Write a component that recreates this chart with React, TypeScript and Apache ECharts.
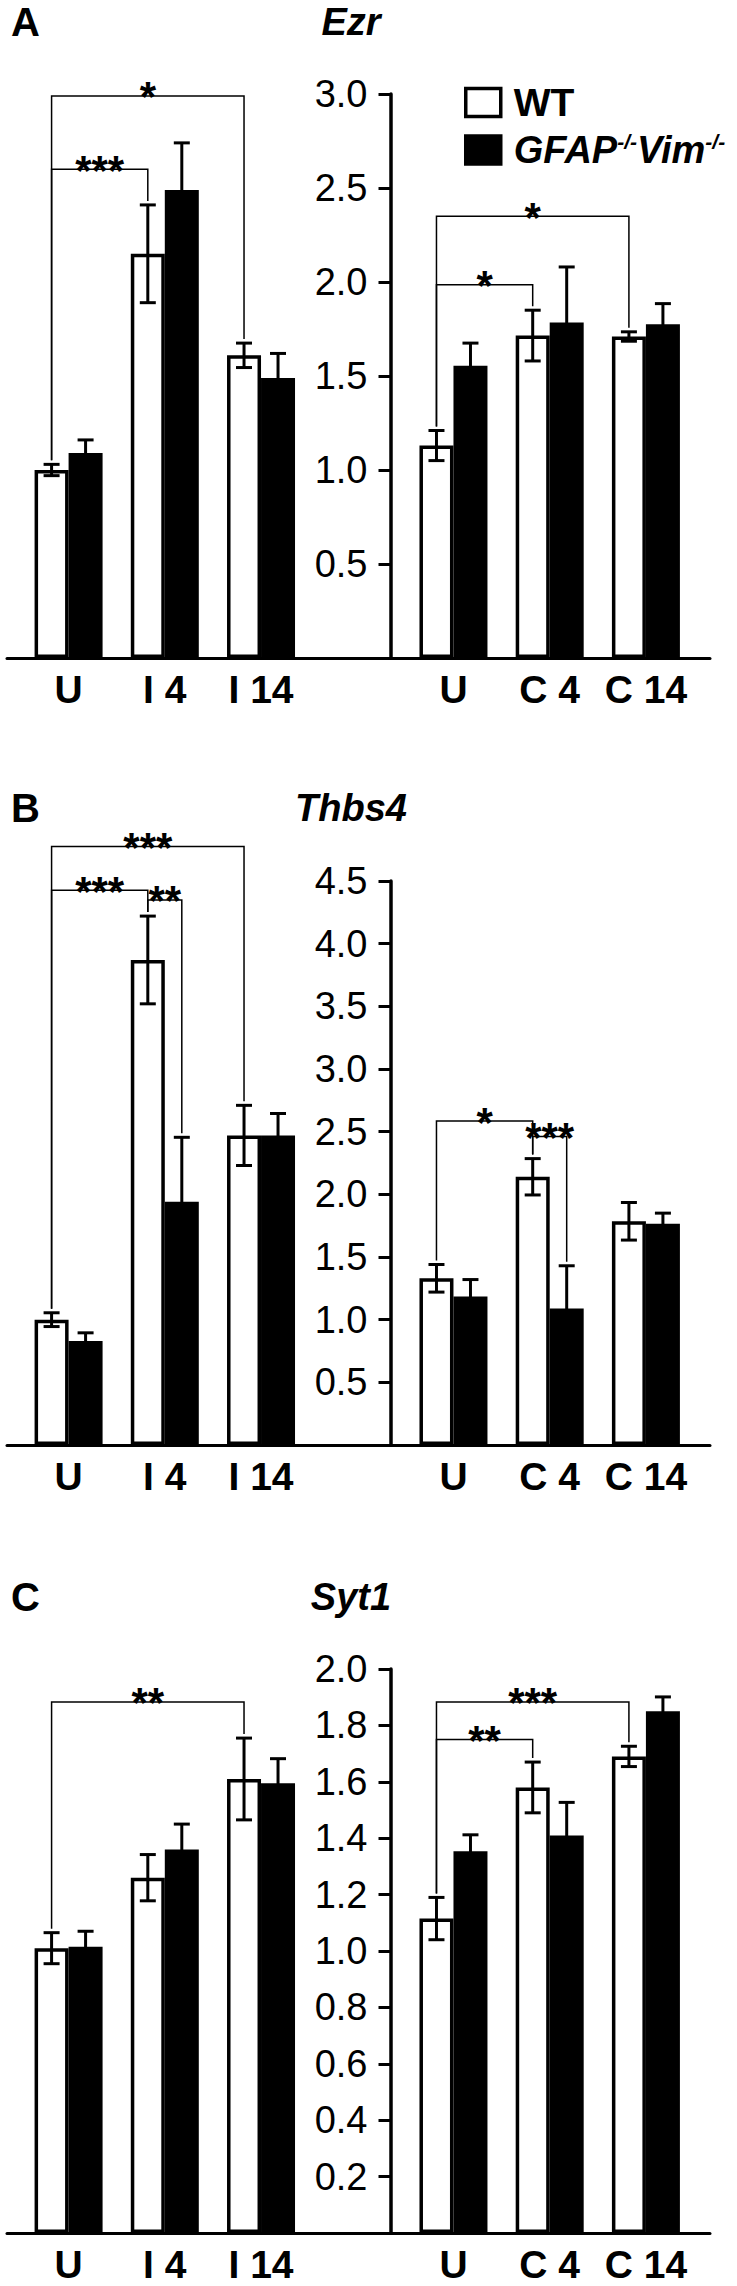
import React, { useEffect, useRef } from 'react';
import * as echarts from 'echarts';

const FONT = '"Liberation Sans", Arial, Helvetica, sans-serif';

// category slots on the shared x scale (slot 3 is the gap holding the y axis)
const X_POS = [0, 1, 2, 4, 5, 6];
const CATEGORIES = ['U', 'I 4', 'I 14', 'U', 'C 4', 'C 14'];
const NAME_WT = 'WT';
const NAME_KO = 'GFAP-/-Vim-/-';

const PANEL_LETTERS = ['A', 'B', 'C'];
const GENES = ['Ezr', 'Thbs4', 'Syt1'];
const Y_MAX = [3.0, 4.5, 2.0];
const Y_STEP = [0.5, 0.5, 0.2];

// Ezr
const EZR_WT = [1.0, 2.15, 1.61, 1.13, 1.715, 1.71];
const EZR_WT_ERR = [0.03, 0.26, 0.065, 0.08, 0.135, 0.025];
const EZR_KO = [1.09, 2.49, 1.49, 1.555, 1.785, 1.775];
const EZR_KO_ERR = [0.07, 0.25, 0.13, 0.12, 0.295, 0.11];
// [fromIndex, fromSide(0=WT,1=KO), toIndex, toSide, height, stars]
const EZR_SIG: any[] = [
  [0, 0, 2, 0, 2.99, '*'],
  [0, 0, 1, 0, 2.6, '***'],
  [3, 0, 5, 0, 2.35, '*'],
  [3, 0, 4, 0, 1.985, '*'],
];

// Thbs4
const THBS4_WT = [1.0, 3.87, 2.47, 1.33, 2.14, 1.785];
const THBS4_WT_ERR = [0.055, 0.35, 0.24, 0.11, 0.145, 0.15];
const THBS4_KO = [0.83, 1.94, 2.47, 1.185, 1.09, 1.765];
const THBS4_KO_ERR = [0.065, 0.515, 0.175, 0.135, 0.34, 0.085];
const THBS4_SIG: any[] = [
  [0, 0, 2, 0, 4.775, '***'],
  [0, 0, 1, 0, 4.427, '***'],
  [1, 0, 1, 1, 4.349, '**'],
  [3, 0, 4, 0, 2.585, '*'],
  [4, 0, 4, 1, 2.461, '***'],
];

// Syt1
const SYT1_WT = [1.01, 1.26, 1.61, 1.115, 1.58, 1.69];
const SYT1_WT_ERR = [0.055, 0.082, 0.145, 0.075, 0.09, 0.036];
const SYT1_KO = [1.015, 1.36, 1.595, 1.354, 1.41, 1.85];
const SYT1_KO_ERR = [0.055, 0.09, 0.087, 0.058, 0.117, 0.051];
const SYT1_SIG: any[] = [
  [0, 0, 2, 0, 1.883, '**'],
  [3, 0, 5, 0, 1.883, '***'],
  [3, 0, 4, 0, 1.75, '**'],
];

const PANELS = [
  { wt: EZR_WT, wtErr: EZR_WT_ERR, ko: EZR_KO, koErr: EZR_KO_ERR, sig: EZR_SIG },
  { wt: THBS4_WT, wtErr: THBS4_WT_ERR, ko: THBS4_KO, koErr: THBS4_KO_ERR, sig: THBS4_SIG },
  { wt: SYT1_WT, wtErr: SYT1_WT_ERR, ko: SYT1_KO, koErr: SYT1_KO_ERR, sig: SYT1_SIG },
];

// layout (styles, not data)
const GRID_LEFT = 7;
const GRID_W = 703;
const GRID_TOP = [94, 881, 1669];
const GRID_H = 564;
const TITLE_Y = [22, 808, 1597];
const X_MIN = -0.64;
const X_MAX = 6.666;
const Y_AXIS_OFFSET = -383.5;
const BAR_W = 34;
const CAP = 8;
const LEG_GAP = 4;

function buildOption() {
  const grid: any[] = [];
  const xAxis: any[] = [];
  const yAxis: any[] = [];
  const series: any[] = [];
  const graphic: any[] = [];

  PANELS.forEach((p, i) => {
    grid.push({ left: GRID_LEFT, top: GRID_TOP[i], width: GRID_W, height: GRID_H, containLabel: false });
    xAxis.push({
      type: 'value',
      gridIndex: i,
      min: X_MIN,
      max: X_MAX,
      axisLine: { show: true, onZero: false, lineStyle: { color: '#000', width: 3 } },
      axisTick: { show: false },
      splitLine: { show: false },
      axisLabel: {
        customValues: X_POS,
        margin: 12,
        color: '#000',
        fontFamily: FONT,
        fontSize: 39,
        fontWeight: 'bold',
        formatter: (v: number) => {
          const k = X_POS.indexOf(Math.round(v));
          return k >= 0 && Math.abs(v - X_POS[k]) < 1e-6 ? CATEGORIES[k] : '';
        },
      },
    });
    yAxis.push({
      type: 'value',
      gridIndex: i,
      min: 0,
      max: Y_MAX[i],
      interval: Y_STEP[i],
      position: 'left',
      offset: Y_AXIS_OFFSET,
      axisLine: { show: true, onZero: false, lineStyle: { color: '#000', width: 3.5 } },
      axisTick: { show: true, length: 12, lineStyle: { color: '#000', width: 3 } },
      splitLine: { show: false },
      axisLabel: {
        margin: 23,
        color: '#000',
        fontFamily: FONT,
        fontSize: 38,
        formatter: (v: number) => (Math.abs(v) < 1e-9 ? '' : v.toFixed(1)),
      },
    });

    series.push({
      name: NAME_WT,
      type: 'bar',
      xAxisIndex: i,
      yAxisIndex: i,
      barWidth: BAR_W,
      barGap: '0%',
      itemStyle: { color: '#fff', borderColor: '#000', borderWidth: 3.5 },
      data: X_POS.map((x, k) => [x, p.wt[k]]),
    });
    series.push({
      name: NAME_KO,
      type: 'bar',
      xAxisIndex: i,
      yAxisIndex: i,
      barWidth: BAR_W,
      barGap: '0%',
      itemStyle: { color: '#000' },
      data: X_POS.map((x, k) => [x, p.ko[k]]),
    });

    const errData: number[][] = [];
    X_POS.forEach((x, k) => {
      errData.push([x, p.wt[k], p.wtErr[k], -1]);
      errData.push([x, p.ko[k], p.koErr[k], 1]);
    });
    series.push({
      type: 'custom',
      xAxisIndex: i,
      yAxisIndex: i,
      z: 5,
      silent: true,
      data: errData,
      renderItem: (params: any, api: any) => {
        const x = api.value(0);
        const v = api.value(1);
        const e = api.value(2);
        const side = api.value(3);
        const cx = api.coord([x, v])[0] + (side * BAR_W) / 2;
        const top = api.coord([x, v + e])[1];
        const bot = api.coord([x, v - e])[1];
        const st = { stroke: '#000', lineWidth: 3 };
        return {
          type: 'group',
          children: [
            { type: 'line', shape: { x1: cx, y1: top, x2: cx, y2: bot }, style: st },
            { type: 'line', shape: { x1: cx - CAP, y1: top, x2: cx + CAP, y2: top }, style: st },
            { type: 'line', shape: { x1: cx - CAP, y1: bot, x2: cx + CAP, y2: bot }, style: st },
          ],
        };
      },
    });

    const topOf = (idx: number, side: number) =>
      side === 0 ? p.wt[idx] + p.wtErr[idx] : p.ko[idx] + p.koErr[idx];
    const sigData = p.sig.map((s: any[]) => [
      X_POS[s[0]], s[1], X_POS[s[2]], s[3], s[4], topOf(s[0], s[1]), topOf(s[2], s[3]),
    ]);
    const labels = p.sig.map((s: any[]) => s[5]);
    series.push({
      type: 'custom',
      xAxisIndex: i,
      yAxisIndex: i,
      z: 6,
      silent: true,
      encode: { x: 0, y: 4 },
      data: sigData,
      renderItem: (params: any, api: any) => {
        const x1 = api.value(0);
        const s1 = api.value(1);
        const x2 = api.value(2);
        const s2 = api.value(3);
        const h = api.value(4);
        const b1 = api.value(5);
        const b2 = api.value(6);
        const off = (s: number) => ((s === 0 ? -1 : 1) * BAR_W) / 2;
        const px1 = api.coord([x1, h])[0] + off(s1);
        const px2 = api.coord([x2, h])[0] + off(s2);
        const py = api.coord([x1, h])[1];
        const pb1 = api.coord([x1, b1])[1] - LEG_GAP;
        const pb2 = api.coord([x2, b2])[1] - LEG_GAP;
        return {
          type: 'group',
          children: [
            {
              type: 'polyline',
              shape: { points: [[px1, pb1], [px1, py], [px2, py], [px2, pb2]] },
              style: { stroke: '#000', lineWidth: 1.5, fill: null },
            },
            {
              type: 'text',
              x: (px1 + px2) / 2,
              y: py + 1,
              style: {
                text: labels[params.dataIndex],
                fontSize: 42,
                fontWeight: 'bold',
                fontFamily: FONT,
                fill: '#000',
                align: 'center',
                verticalAlign: 'middle',
              },
            },
          ],
        };
      },
    });

    graphic.push({
      type: 'text',
      x: 11,
      y: TITLE_Y[i],
      style: {
        text: PANEL_LETTERS[i],
        fontSize: 40,
        fontWeight: 'bold',
        fontFamily: FONT,
        fill: '#000',
        align: 'left',
        verticalAlign: 'middle',
      },
    });
    graphic.push({
      type: 'text',
      x: 351,
      y: TITLE_Y[i],
      style: {
        text: GENES[i],
        fontSize: 38,
        fontWeight: 'bold',
        fontStyle: 'italic',
        fontFamily: FONT,
        fill: '#000',
        align: 'center',
        verticalAlign: 'middle',
      },
    });
  });

  return {
    animation: false,
    backgroundColor: '#fff',
    grid,
    xAxis,
    yAxis,
    series,
    graphic,
    legend: {
      data: [
        { name: NAME_WT, icon: 'rect' },
        { name: NAME_KO, icon: 'rect' },
      ],
      orient: 'vertical',
      left: 459,
      top: 78,
      itemWidth: 35,
      itemHeight: 28,
      itemGap: 9,
      selectedMode: false,
      itemStyle: { borderWidth: 3.5, borderColor: '#000' },
      formatter: (name: string) =>
        name === NAME_WT ? '{w|WT}' : '{g|GFAP}{s|-/-}{g|Vim}{s|-/-}',
      textStyle: {
        color: '#000',
        fontFamily: FONT,
        fontSize: 38,
        padding: [0, 0, 0, 8],
        rich: {
          w: { fontSize: 39, fontWeight: 'bold', fontFamily: FONT, color: '#000' },
          g: { fontSize: 38, fontWeight: 'bold', fontStyle: 'italic', fontFamily: FONT, color: '#000' },
          s: { fontSize: 21, fontWeight: 'bold', fontStyle: 'italic', fontFamily: FONT, color: '#000', verticalAlign: 'top' },
        },
      },
    },
  };
}

export default function App() {
  const ref = useRef<HTMLDivElement>(null);
  useEffect(() => {
    if (!ref.current) return;
    const chart = echarts.init(ref.current, undefined, { renderer: 'svg' });
    chart.setOption(buildOption() as any);
    return () => chart.dispose();
  }, []);
  return (
    <div
      ref={ref}
      style={{ position: 'absolute', left: 0, top: 0, width: 737, height: 2286, background: '#fff' }}
    />
  );
}
